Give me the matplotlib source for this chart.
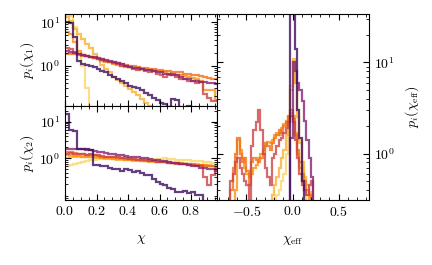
import numpy as np
import matplotlib
matplotlib.use("Agg")
import matplotlib.pyplot as plt
from matplotlib.ticker import MultipleLocator, FixedLocator

plt.rcParams['font.family'] = 'serif'
plt.rcParams['font.serif'] = ['cmr10', 'DejaVu Serif']
plt.rcParams['mathtext.fontset'] = 'cm'
plt.rcParams['axes.formatter.use_mathtext'] = True
plt.rcParams['font.size'] = 10

Z = 0.01  # en dessous de l'axe

# couleurs des populations
colors = ['#3d0e5e', '#862371', '#cd4347', '#f07018', '#fa9212', '#fbb12e', '#fcd66b']

# histogrammes de chi_1 (40 bins de 0 a 1)
dp1 = [10, 9.5, 4.5, 1.3, 1.1, 1.05, 1.0, 0.95, 0.85, 0.75, 0.7, 0.6, 0.55, 0.5, 0.45, 0.4, 0.35, 0.33, 0.3, 0.27,
       0.24, 0.21, 0.18, 0.16, 0.14, 0.13, 0.11, 0.17, 0.16, 0.1, 0.08, 0.12, 0.09, 0.07, Z, Z, Z, Z, Z, Z]
mg1 = [2.2, 2.1, 2.0, 1.9, 1.8, 1.7, 1.6, 1.55, 1.5, 1.4, 1.35, 1.3, 1.2, 1.15, 1.1, 1.0, 0.95, 0.9, 0.9, 0.85,
       0.8, 0.8, 0.75, 0.7, 0.7, 0.65, 0.65, 0.6, 0.6, 0.55, 0.5, 0.5, 0.45, 0.45, 0.42, 0.42, 0.4, 0.4, 0.38, 0.38]
rd1 = [2.6, 2.4, 2.1, 1.9, 1.8, 1.7, 1.6, 1.5, 1.4, 1.35, 1.3, 1.2, 1.15, 1.1, 1.0, 1.0, 0.95, 0.85, 0.8, 0.85,
       0.75, 0.7, 0.75, 0.65, 0.6, 0.55, 0.6, 0.65, 0.55, 0.5, 0.5, 0.45, 0.45, 0.4, 0.42, 0.22, 0.18, 0.15, 0.15, 0.15]
or1 = [1.9, 1.9, 1.85, 1.8, 1.7, 1.65, 1.6, 1.5, 1.45, 1.4, 1.3, 1.25, 1.2, 1.15, 1.1, 1.05, 1.0, 1.0, 0.95, 0.9,
       0.9, 0.85, 0.85, 0.8, 0.8, 0.75, 0.75, 0.72, 0.7, 0.7, 0.65, 0.65, 0.6, 0.6, 0.57, 0.55, 0.52, 0.5, 0.5, 0.5]
am1 = [6, 5.5, 3.5, 2.2, 1.8, 1.7, 1.6, 1.5, 1.4, 1.3, 1.25, 1.2, 1.1, 1.05, 1.0, 0.95, 0.92, 0.9, 0.85, 0.85,
       0.8, 0.8, 0.75, 0.75, 0.7, 0.7, 0.65, 0.65, 0.62, 0.6, 0.58, 0.55, 0.52, 0.5, 0.45, 0.28, 0.28, 0.28, 0.16, 0.16]
yo1 = [13, 11, 7, 5.5, 4.2, 3.2, 2.5, 1.9, 1.4, 1.05, 0.85, 0.7, 0.55, 0.47, 0.4, 0.34, 0.29, 0.25, 0.21, 0.17,
       0.14, 0.115, 0.1, 0.08, Z, Z, Z, Z, Z, Z, Z, Z, Z, Z, Z, Z, Z, Z, Z, Z]
ly1 = [15, 14, 8, 2, 1.0, 0.3, Z, Z, Z, Z, Z, Z, Z, Z, Z, Z, Z, Z, Z, Z,
       Z, Z, Z, Z, Z, Z, Z, Z, Z, Z, Z, Z, Z, Z, Z, Z, Z, Z, Z, Z]

# histogrammes de chi_2
dp2 = [16, 6, 5.5, 1.8, 1.8, 1.8, 1.7, 0.65, 0.65, 0.6, 0.6, 0.55, 0.5, 0.5, 0.45, 0.5, 0.48, 0.42, 0.45, 0.4,
       0.35, 0.35, 0.27, 0.22, 0.2, 0.18, 0.15, 0.14, 0.12, 0.12, 0.13, 0.11, 0.12, 0.1, 0.1, 0.06, Z, Z, Z, Z]
mg2 = [1.8, 1.8, 1.85, 1.8, 1.75, 1.7, 1.65, 1.6, 1.5, 1.45, 1.4, 1.35, 1.3, 1.25, 1.2, 1.15, 1.1, 1.1, 1.05, 1.0,
       1.0, 0.95, 0.9, 0.9, 0.85, 0.85, 0.8, 0.75, 0.75, 0.7, 0.7, 0.65, 0.6, 0.6, 0.55, 0.55, 0.5, 0.5, 0.45, 0.45]
rd2 = [1.3, 1.4, 1.3, 1.35, 1.3, 1.25, 1.3, 1.2, 1.2, 1.15, 1.1, 1.1, 1.05, 1.05, 1.0, 1.0, 0.95, 0.95, 0.9, 0.9,
       0.9, 0.85, 0.85, 0.8, 0.8, 0.8, 0.75, 0.75, 0.7, 0.7, 0.7, 0.65, 0.65, 0.6, 0.6, 0.3, 0.18, 0.35, 0.5, 0.5]
or2 = [1.5, 1.45, 1.4, 1.35, 1.3, 1.25, 1.2, 1.2, 1.15, 1.1, 1.1, 1.05, 1.05, 1.0, 1.0, 0.95, 0.95, 0.9, 0.9, 0.9,
       0.85, 0.85, 0.85, 0.8, 0.8, 0.8, 0.75, 0.75, 0.75, 0.7, 0.7, 0.7, 0.65, 0.65, 0.65, 0.6, 0.6, 0.6, 0.55, 0.55]
am2 = [1.2, 1.2, 1.15, 1.15, 1.1, 1.1, 1.1, 1.05, 1.05, 1.0, 1.0, 1.0, 0.95, 0.95, 0.95, 0.9, 0.9, 0.9, 0.9, 0.85,
       0.85, 0.85, 0.85, 0.8, 0.8, 0.8, 0.8, 0.75, 0.75, 0.75, 0.7, 0.7, 0.7, 0.65, 0.65, 0.65, 0.6, 0.6, 0.55, 0.55]
yo2 = [1.0, 1.05, 1.1, 1.1, 1.1, 1.05, 1.05, 1.0, 1.0, 1.0, 0.95, 0.95, 0.95, 0.9, 0.9, 0.9, 0.9, 0.85, 0.85, 0.85,
       0.85, 0.8, 0.8, 0.8, 0.8, 0.8, 0.75, 0.75, 0.75, 0.75, 0.7, 0.7, 0.7, 0.7, 0.65, 0.65, 0.65, 0.6, 0.6, 0.6]
ly2 = [0.6, 0.65, 0.7, 0.75, 0.8, 0.85, 0.9, 0.9, 0.95, 0.95, 0.95, 0.95, 0.95, 0.95, 0.95, 0.95, 0.95, 0.95, 0.95, 0.95,
       0.95, 0.95, 0.95, 0.95, 0.95, 1.0, 0.95, 0.95, 0.9, 0.9, 0.9, 0.9, 0.85, 0.85, 0.85, 0.8, 0.8, 0.75, 0.75, 0.7]

# histogrammes de chi_eff (44 bins de -0.8 a 0.3)
dpe = [Z]*31 + [40, 40, 14, 3, 1.5, 0.5, 0.3] + [Z]*6
mge = [Z]*30 + [0.2, 1.5, 10, 8, 6, 5, 3.8, 2.3, 1.4, 0.9, 0.55, Z, Z, Z]
rde = [Z, Z, Z, Z, Z, 0.5, 0.6, 0.8, 0.9, 0.7, 0.6, 0.5, 0.45, 0.28, 1.2, 1.8, 2.2, 3.0, 1.8, 1.0,
       0.7, 0.55, 0.45, 0.9, 1.0, 1.2, 1.4, 1.5, 1.7, 1.9, 2.2, 2.6, 2.2, 1.4, 0.9, 0.6, 0.45, 0.4, 0.35, 0.45,
       0.5, Z, Z, Z]
ore = [Z, Z, Z, Z, Z, 0.4, 0.7, 1.0, 1.5, 1.0, 0.8, 0.9, 0.65, 0.45, 0.8, 0.9, 0.85, 0.8, 0.9, 1.0,
       1.3, 1.2, 1.1, 1.3, 1.5, 1.6, 1.8, 1.7, 2.0, 2.2, 2.6, 3.0, 2.4, 1.6, 1.1, 0.8, 0.6, 0.5, 0.4, 0.35,
       Z, Z, Z, Z]
ame = [Z, Z, Z, Z, Z, Z, Z, 0.4, 1.4, 1.1, 0.9, 0.7, 0.6, 0.55, 0.6, 0.7, 0.75, 0.9, 1.0, 1.1,
       1.2, 1.35, 1.3, 1.4, 1.6, 1.7, 1.6, 1.9, 2.1, 2.3, 2.5, 2.8, 2.6, 1.7, 1.0, 0.7, 0.5, 0.4, 0.35, Z,
       Z, Z, Z, Z]
yoe = [Z]*23 + [0.35, 0.45, 0.55, 0.7, 0.9, 1.1, 1.6, 2.5, 5, 11, 6, 2.5, 1.3, 0.8, 0.55, 0.45, 0.38] + [Z]*4
lye = [Z]*24 + [0.32, 0.35, 0.4, 0.5, 0.6, 1.0, 2.0, 5.5, 10, 6, 3, 1.4, 0.7, 0.4] + [Z]*6

chi1 = [dp1, mg1, rd1, or1, am1, yo1, ly1]
chi2 = [dp2, mg2, rd2, or2, am2, yo2, ly2]
chieff = [dpe, mge, rde, ore, ame, yoe, lye]

bins_chi = np.linspace(0, 1, 41)
bins_eff = np.linspace(-0.8, 0.3, 45)

fig = plt.figure(figsize=(4.32, 2.65), dpi=100)
ax1 = fig.add_axes([0.1505, 0.6, 0.3518, 0.347])
ax2 = fig.add_axes([0.1505, 0.2453, 0.3518, 0.3547])
ax3 = fig.add_axes([0.5023, 0.2453, 0.3519, 0.7017])

# on trace de la plus claire a la plus sombre
for i in reversed(range(len(colors))):
    ax1.stairs(chi1[i], bins_chi, baseline=None, color=colors[i], lw=1.6, alpha=0.8)
    ax2.stairs(chi2[i], bins_chi, baseline=None, color=colors[i], lw=1.6, alpha=0.8)
    ax3.stairs(chieff[i], bins_eff, baseline=None, color=colors[i], lw=1.6, alpha=0.8)

for ax in [ax1, ax2, ax3]:
    ax.set_yscale('log')
    ax.tick_params(which='both', direction='in', top=True, right=True)
    ax.tick_params(which='major', length=4)
    ax.tick_params(which='minor', length=2)

ax1.set_xlim(0, 0.965)
ax2.set_xlim(0, 0.965)
ax1.set_ylim(0.118, 15.5)
ax2.set_ylim(0.072, 27)
ax2.yaxis.set_major_locator(FixedLocator([1, 10]))
for ax in [ax1, ax2]:
    ax.xaxis.set_major_locator(MultipleLocator(0.2))
    ax.xaxis.set_minor_locator(MultipleLocator(0.05))
ax1.tick_params(labelbottom=False)
ax1.set_ylabel(r'$p_i(\chi_1)$', labelpad=2)
ax2.set_ylabel(r'$p_i(\chi_2)$', labelpad=2)
ax2.set_xlabel(r'$\chi$', labelpad=11)

ax3.set_xlim(-0.82, 0.83)
ax3.set_ylim(0.31, 34)
ax3.xaxis.set_major_locator(MultipleLocator(0.5))
ax3.xaxis.set_minor_locator(MultipleLocator(0.1))
ax3.tick_params(which='both', labelleft=False, labelright=True)
ax3.yaxis.set_label_position('right')
ax3.set_ylabel(r'$p_i(\chi_{\rm eff})$', labelpad=6)
ax3.set_xlabel(r'$\chi_{\rm eff}$', labelpad=11)

plt.savefig('out.png', dpi=100)
